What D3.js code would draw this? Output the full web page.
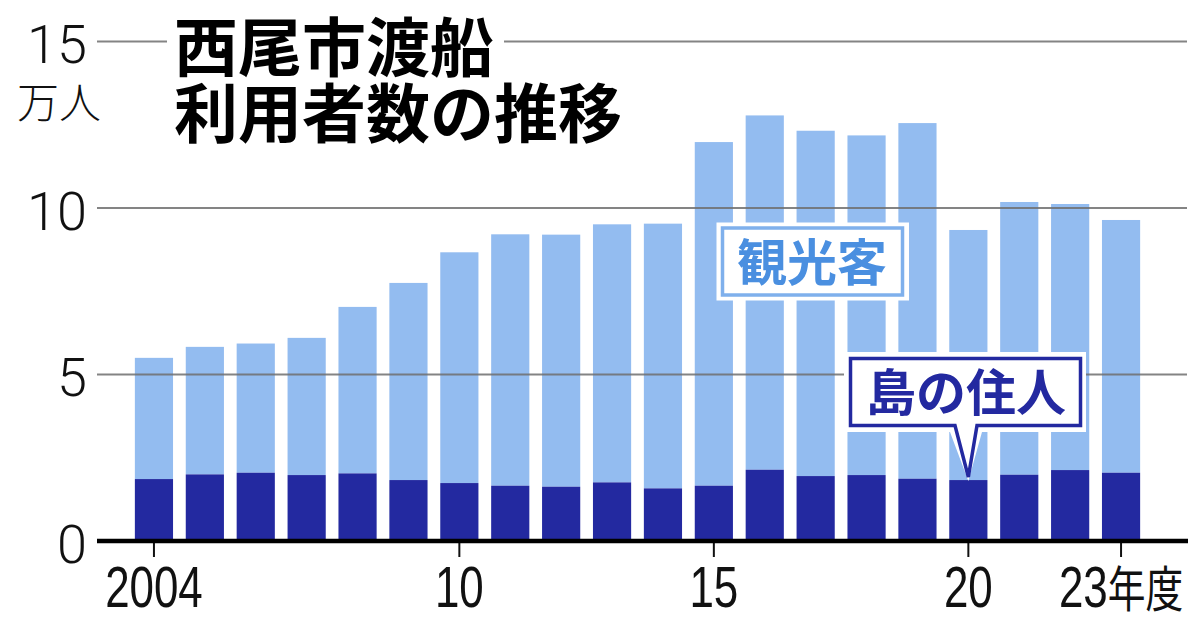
<html>
<head>
<meta charset="utf-8">
<script src="https://cdn.jsdelivr.net/npm/d3@7"></script>
<style>
  body { margin: 0; background: #fff; }
  svg { display: block; }
</style>
</head>
<body>
<script>
// data (万人)
var years = [2004, 2005, 2006, 2007, 2008, 2009, 2010, 2011, 2012, 2013,
             2014, 2015, 2016, 2017, 2018, 2019, 2020, 2021, 2022, 2023];
var totals = [5.50, 5.83, 5.93, 6.10, 7.03, 7.75, 8.67, 9.21, 9.20, 9.51,
              9.53, 11.98, 12.78, 12.32, 12.18, 12.55, 9.34, 10.18, 10.12, 9.64];
var residents = [1.86, 2.00, 2.05, 1.98, 2.03, 1.83, 1.74, 1.66, 1.63, 1.76,
                 1.58, 1.66, 2.14, 1.95, 1.98, 1.87, 1.83, 1.99, 2.13, 2.05];
var yTicks = [0, 5, 10, 15];
var xTickYears = [2004, 2010, 2015, 2020, 2023];
var xTickLabels = ["2004", "10", "15", "20", "23"];

var W = 1200, H = 624;
var light = "#93bcf0", dark = "#2329a0";
var cjk = "'Noto Sans CJK JP', sans-serif";

var svg = d3.select("body").append("svg")
    .attr("width", W).attr("height", H);

var x = d3.scaleBand()
    .domain(years)
    .range([128.5, 1146.5])
    .paddingInner(0.25)
    .paddingOuter(0.125);

var y = d3.scaleLinear()
    .domain([0, 15])
    .range([541, 41.5]);

// mask so the 15 gridline stops around the title
var mask = svg.append("defs").append("mask").attr("id", "gridmask");
mask.append("rect").attr("width", W).attr("height", H).attr("fill", "#fff");
mask.append("rect").attr("x", 167).attr("y", 30).attr("width", 337).attr("height", 24).attr("fill", "#000");

// bars: tourists = total - residents, stacked on residents
var rows = years.map((yr, i) => ({year: yr, total: totals[i], res: residents[i]}));

svg.append("g").selectAll("rect").data(rows).enter().append("rect")
    .attr("x", d => x(d.year))
    .attr("width", x.bandwidth())
    .attr("y", d => y(d.total))
    .attr("height", d => y(d.res) - y(d.total))
    .attr("fill", light);

svg.append("g").selectAll("rect").data(rows).enter().append("rect")
    .attr("x", d => x(d.year))
    .attr("width", x.bandwidth())
    .attr("y", d => y(d.res))
    .attr("height", d => y(0) - y(d.res))
    .attr("fill", dark);

// gridlines
svg.append("g").attr("mask", "url(#gridmask)")
    .selectAll("line").data(yTicks.filter(t => t > 0)).enter().append("line")
    .attr("x1", 97).attr("x2", 1187)
    .attr("y1", d => y(d)).attr("y2", d => y(d))
    .attr("stroke", "#6e6e6e").attr("stroke-opacity", 0.85)
    .attr("stroke-width", 2);

// y labels
var yAxis = svg.append("g")
    .attr("transform", "translate(97,0)")
    .call(d3.axisLeft(y).tickValues(yTicks).tickSize(0).tickPadding(10));
yAxis.select(".domain").remove();
yAxis.selectAll("text")
    .attr("dy", null)
    .attr("y", 21)
    .attr("font-family", "Roboto, 'Liberation Sans', sans-serif")
    .attr("font-weight", 300)
    .attr("font-size", 54)
    .attr("fill", "#111");

svg.append("text")
    .attr("x", 101).attr("y", 118)
    .attr("text-anchor", "end")
    .attr("font-family", cjk)
    .attr("font-weight", 300)
    .attr("font-size", 42)
    .attr("fill", "#111")
    .text("万人");

// x axis
var xAxis = svg.append("g")
    .attr("transform", "translate(0," + y(0) + ")")
    .call(d3.axisBottom(x).tickValues(xTickYears).tickSize(16).tickPadding(0)
        .tickFormat(d => xTickLabels[xTickYears.indexOf(d)]));
xAxis.select(".domain").remove();
xAxis.selectAll(".tick line").attr("stroke", "#111").attr("stroke-width", 2);
xAxis.selectAll(".tick text")
    .attr("y", 66).attr("dy", null)
    .attr("transform", "scale(0.77,1)")
    .attr("font-family", "'Liberation Sans', Arial, sans-serif")
    .attr("font-weight", "normal")
    .attr("font-size", 57)
    .attr("fill", "#111");
xAxis.selectAll(".tick text").filter(d => d === 2023)
    .append("tspan")
    .attr("font-family", cjk)
    .attr("font-size", 49)
    .text("年度");

// baseline
svg.append("line")
    .attr("x1", 97).attr("x2", 1188)
    .attr("y1", y(0)).attr("y2", y(0))
    .attr("stroke", "#000").attr("stroke-width", 4.5);

// title
svg.append("text")
    .attr("x", 174).attr("y", 71)
    .attr("font-family", cjk)
    .attr("font-weight", "bold")
    .attr("font-size", 64)
    .attr("fill", "#000")
    .text("西尾市渡船");
svg.append("text")
    .attr("x", 174).attr("y", 137)
    .attr("font-family", cjk)
    .attr("font-weight", "bold")
    .attr("font-size", 64)
    .attr("fill", "#000")
    .text("利用者数の推移");

// 観光客 label
svg.append("rect")
    .attr("x", 716.5).attr("y", 222.5).attr("width", 192.5).attr("height", 78)
    .attr("fill", "#fff");
svg.append("rect")
    .attr("x", 722.5).attr("y", 228).attr("width", 180).attr("height", 67)
    .attr("fill", "#fff").attr("stroke", "#7fb0ec").attr("stroke-width", 3.5);
svg.append("text")
    .attr("x", 812).attr("y", 281)
    .attr("text-anchor", "middle")
    .attr("font-family", cjk)
    .attr("font-weight", "bold")
    .attr("font-size", 50)
    .attr("fill", "#4a8fe0")
    .text("観光客");

// 島の住人 label with pointer to the 2020 bar
var tipX = x(2020) + x.bandwidth() / 2, tipY = y(residents[16]) - 3;
svg.append("path")
    .attr("d", "M844,352H1086V432H982L" + tipX + "," + (tipY + 4) + "L950,432H844Z")
    .attr("fill", "#fff");
svg.append("path")
    .attr("d", "M850.5,358.5H1080.5V425.5H977L" + tipX + "," + tipY + "L955,425.5H850.5Z")
    .attr("fill", "#fff").attr("stroke", dark).attr("stroke-width", 3.5)
    .attr("stroke-linejoin", "miter");
svg.append("text")
    .attr("x", 966).attr("y", 411)
    .attr("text-anchor", "middle")
    .attr("font-family", cjk)
    .attr("font-weight", "bold")
    .attr("font-size", 50)
    .attr("fill", dark)
    .text("島の住人");
</script>
</body>
</html>
